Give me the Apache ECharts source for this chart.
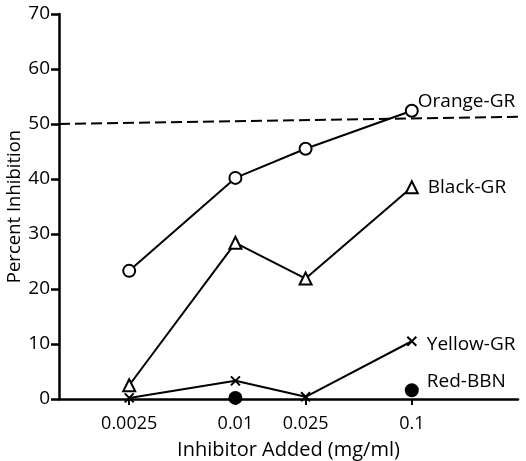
<!DOCTYPE html>
<html>
<head>
<meta charset="utf-8">
<script src="https://cdn.jsdelivr.net/npm/echarts@6.0.0/dist/echarts.min.js"></script>
<style>
  html, body { margin: 0; padding: 0; background: #fff; }
  #chart { width: 526px; height: 461px; }
</style>
</head>
<body>
<div id="chart"></div>
<script>
// inhibitor concentrations (mg/ml)
const doses = [0.0025, 0.01, 0.025, 0.1];
const doseLabels = ['0.0025', '0.01', '0.025', '0.1'];

const orangeGR = [23.3, 40.2, 45.5, 52.4];
const blackGR = [2.5, 28.4, 21.9, 38.5];
const yellowGR = [0.2, 3.3, 0.4, 10.5];
const redBBN = [null, 0.2, null, 1.6];

const threshold = [50, 51.3];   // dashed 50% line (slightly tilted in the scan)

const font = 'Open Sans';

function pairs(vals) {
    return doses.map((d, i) => [d, vals[i]]);
}

function mkSeries(name, vals, symbol, size, lbl) {
    return {
        name: name,
        type: 'line',
        data: pairs(vals),
        symbol: symbol,
        symbolSize: size,
        showAllSymbol: true,
        connectNulls: false,
        lineStyle: { color: '#000', width: lbl.line === false ? 0 : 2 },
        itemStyle: { color: lbl.fill || '#fff', borderColor: '#000', borderWidth: 2 },
        endLabel: {
            show: true, formatter: name, color: '#000',
            fontFamily: font, fontSize: 19, fontWeight: 500,
            distance: lbl.dist, offset: [0, lbl.dy]
        },
        z: 3
    };
}

const chart = echarts.init(document.getElementById('chart'));
chart.setOption({
    animation: false,
    grid: { left: 59, right: 8, top: 14, bottom: 62, containLabel: false, outerBoundsMode: 'none' },
    xAxis: {
        type: 'log', logBase: 10, min: 0.001, max: 0.4,
        name: 'Inhibitor Added (mg/ml)', nameLocation: 'middle', nameGap: 41, nameMoveOverlap: false,
        nameTextStyle: { fontFamily: font, fontSize: 20, fontWeight: 500, color: '#000' },
        axisLine: { show: true, lineStyle: { color: '#000', width: 2.5 } },
        axisTick: { show: true, customValues: doses, length: 6, lineStyle: { color: '#000', width: 2 } },
        axisLabel: {
            customValues: doses, color: '#000', fontFamily: font, fontSize: 18, fontWeight: 500, margin: 16,
            formatter: v => doseLabels[doses.findIndex(d => Math.abs(d - v) < 1e-9)] || ''
        },
        splitLine: { show: false },
        minorTick: { show: false }
    },
    yAxis: {
        type: 'value', min: 0, max: 70, interval: 10,
        name: 'Percent Inhibition', nameLocation: 'middle', nameGap: 35, nameMoveOverlap: false,
        nameTextStyle: { fontFamily: font, fontSize: 18.5, fontWeight: 500, color: '#000' },
        axisLine: { show: true, lineStyle: { color: '#000', width: 2.5 } },
        axisTick: { show: true, length: 8, lineStyle: { color: '#000', width: 2.5 } },
        axisLabel: { color: '#000', fontFamily: font, fontSize: 19, fontWeight: 500, margin: 9 },
        splitLine: { show: false }
    },
    series: [
        Object.assign(mkSeries('Orange-GR', orangeGR, 'circle', 12, { dist: 6, dy: -9 }), {
            markLine: {
                silent: true, symbol: 'none',
                lineStyle: { color: '#000', type: [11, 5], width: 2 },
                label: { show: false },
                data: [[{ coord: [0.001, threshold[0]] }, { coord: [0.4, threshold[1]] }]]
            }
        }),
        mkSeries('Black-GR', blackGR, 'triangle', 12, { dist: 16, dy: 0 }),
        mkSeries('Yellow-GR', yellowGR, 'path://M0,0L10,10M10,0L0,10', 9, { dist: 15, dy: 3, fill: '#000' }),
        mkSeries('Red-BBN', redBBN, 'circle', 12, { dist: 15, dy: -9, fill: '#000', line: false })
    ]
});
</script>
</body>
</html>
